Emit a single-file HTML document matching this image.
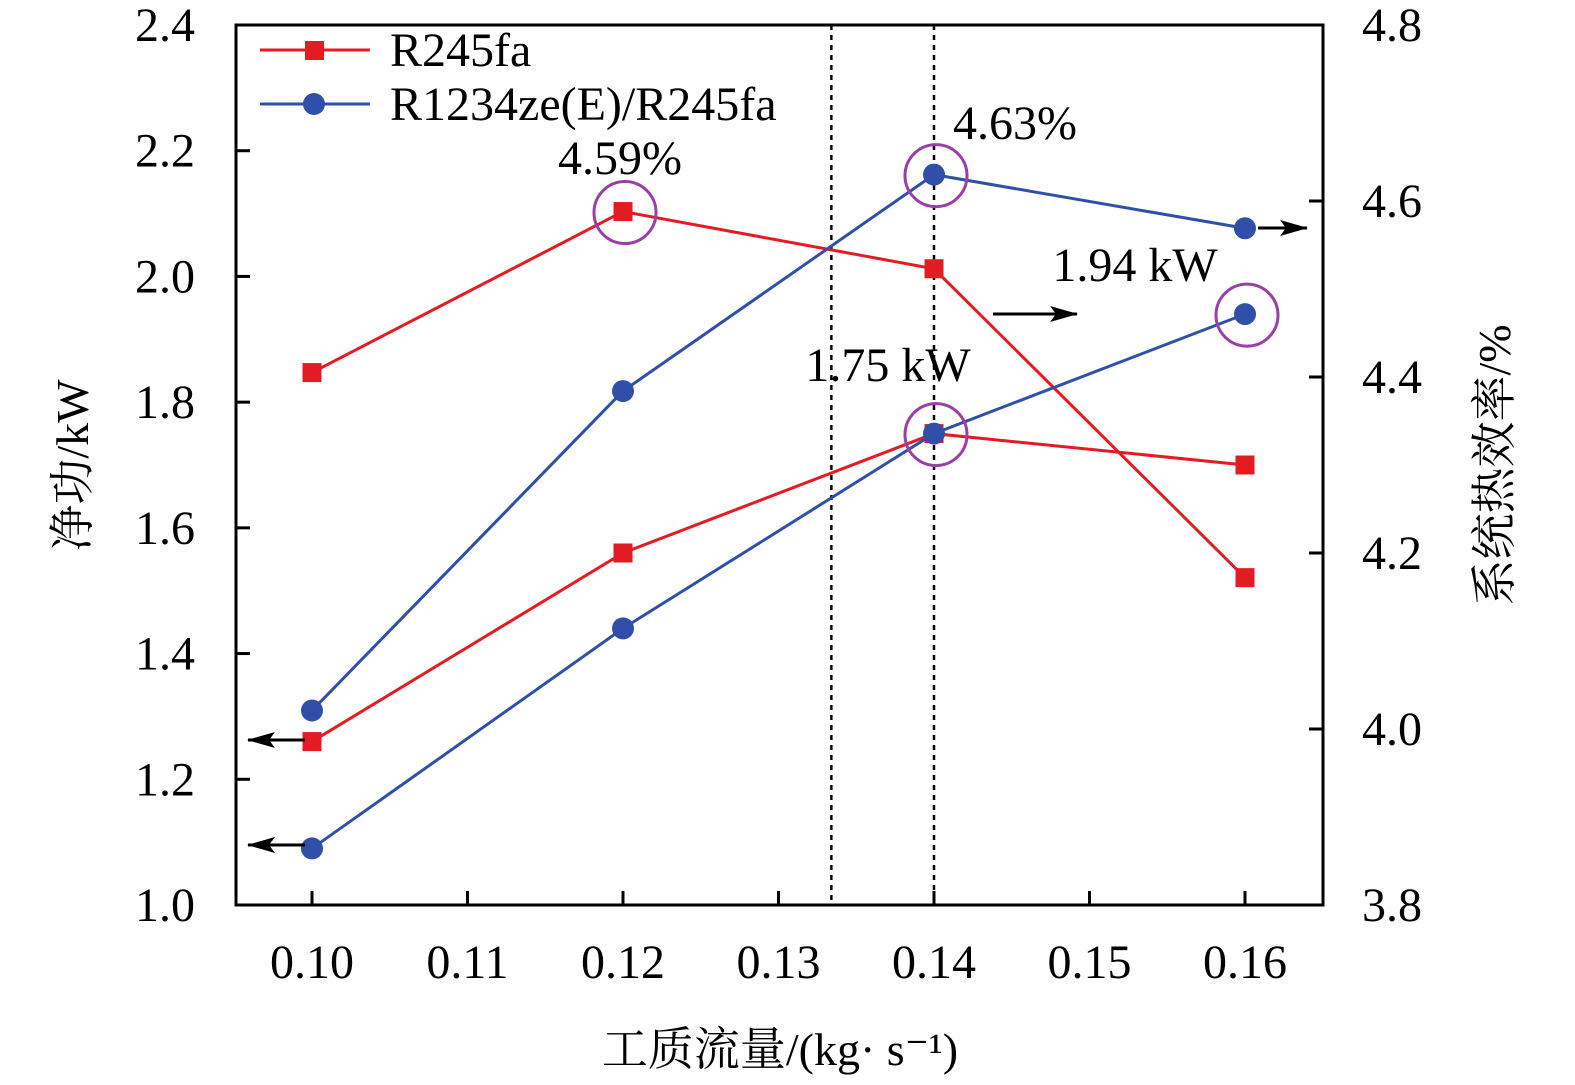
<!DOCTYPE html>
<html><head><meta charset="utf-8"><style>
html,body{margin:0;padding:0;background:#fff;}
svg{display:block;font-family:"Liberation Serif","Noto Serif CJK SC",serif;}
</style></head><body>
<svg id="c" width="1575" height="1085" viewBox="0 0 1575 1085" xmlns="http://www.w3.org/2000/svg">
<defs><marker id="ah" markerWidth="28" markerHeight="16" refX="27" refY="8" orient="auto" markerUnits="userSpaceOnUse"><path d="M0,0 L28,8 L0,16 L6,8 Z" fill="#000"/></marker></defs>
<g id="g"></g>
</svg>
<script>
const xVals=[0.10,0.12,0.14,0.16];
const r245Work=[1.26,1.56,1.75,1.70];
const r245Eff=[4.405,4.588,4.523,4.172];
const mixWork=[1.09,1.44,1.75,1.94];
const mixEff=[4.021,4.384,4.63,4.569];
const xTicks=[0.10,0.11,0.12,0.13,0.14,0.15,0.16];
const yLTicks=[1.0,1.2,1.4,1.6,1.8,2.0,2.2,2.4];
const yRTicks=[3.8,4.0,4.2,4.4,4.6,4.8];
const vLines=[0.1334,0.14];

const L=236,R=1323,T=25,B=905;
const sx=v=>312+(v-0.10)/0.06*(1245-312);
const syL=v=>B-(v-1.0)/1.4*(B-T);
const syR=v=>B-(v-3.8)/1.0*(B-T);
const NS="http://www.w3.org/2000/svg";
const g=document.getElementById('g');
function el(t,a,name,txt){const e=document.createElementNS(NS,t);for(const k in a)e.setAttribute(k,a[k]);


if(txt!==undefined)e.textContent=txt;g.appendChild(e);return e;}

el('rect',{x:L,y:T,width:R-L,height:B-T,fill:'none',stroke:'#000','stroke-width':3},'plot-frame');
vLines.forEach(v=>el('line',{x1:sx(v),x2:sx(v),y1:T,y2:B,stroke:'#000','stroke-width':2.5,'stroke-dasharray':'5,5'},'reference-line'));
xTicks.forEach(v=>{el('line',{x1:sx(v),x2:sx(v),y1:B,y2:B-14,stroke:'#000','stroke-width':3},'x-tick');
el('text',{x:sx(v),y:978,'font-size':48,'text-anchor':'middle'},'x-tick-label',v.toFixed(2));});
yLTicks.forEach(v=>{el('line',{x1:L,x2:L+14,y1:syL(v),y2:syL(v),stroke:'#000','stroke-width':3},'y-left-tick');
el('text',{x:195,y:syL(v)+16,'font-size':48,'text-anchor':'end'},'y-left-tick-label',v.toFixed(1));});
yRTicks.forEach(v=>{el('line',{x1:R,x2:R-14,y1:syR(v),y2:syR(v),stroke:'#000','stroke-width':3},'y-right-tick');
el('text',{x:1362,y:syR(v)+16,'font-size':48,'text-anchor':'start'},'y-right-tick-label',v.toFixed(1));});

el('text',{x:780,y:1065,'font-size':46,'text-anchor':'middle'},'x-axis-title','工质流量/(kg· s⁻¹)');
el('text',{x:0,y:0,'font-size':46,'text-anchor':'middle',transform:'translate(88,465) rotate(-90)'},'y-left-axis-title','净功/kW');
el('text',{x:0,y:0,'font-size':46,'text-anchor':'middle',transform:'translate(1510,465) rotate(-90)'},'y-right-axis-title','系统热效率/%');

const RED='#e31b23',BLUE='#2f4fa8';
function series(vals,sy,col,shape,name){
 el('polyline',{points:vals.map((v,i)=>sx(xVals[i])+','+sy(v)).join(' '),fill:'none',stroke:col,'stroke-width':3},name+'-line');
 vals.forEach((v,i)=>{const x=sx(xVals[i]),y=sy(v);
  if(shape==='sq')el('rect',{x:x-9.5,y:y-9.5,width:19,height:19,fill:col},name+'-marker');
  else el('circle',{cx:x,cy:y,r:11,fill:col},name+'-marker');});
}
series(r245Work,syL,RED,'sq','r245fa-work');
series(r245Eff,syR,RED,'sq','r245fa-efficiency');
series(mixWork,syL,BLUE,'ci','mixture-work');
series(mixEff,syR,BLUE,'ci','mixture-efficiency');

[[sx(0.12),syR(r245Eff[1])],[sx(0.14),syR(mixEff[2])],[sx(0.14),syL(1.75)],[sx(0.16),syL(mixWork[3])]].forEach(p=>
 el('circle',{cx:p[0]+2,cy:p[1]+1,r:31,fill:'none',stroke:'#9b3fa8','stroke-width':3},'highlight-circle'));

el('line',{x1:305,y1:740,x2:248,y2:740,stroke:'#000','stroke-width':3,'marker-end':'url(#ah)'},'left-axis-arrow');
el('line',{x1:305,y1:845,x2:248,y2:845,stroke:'#000','stroke-width':3,'marker-end':'url(#ah)'},'left-axis-arrow');
el('line',{x1:993,y1:314,x2:1077,y2:314,stroke:'#000','stroke-width':3,'marker-end':'url(#ah)'},'right-axis-arrow');
el('line',{x1:1258,y1:228,x2:1307,y2:228,stroke:'#000','stroke-width':3,'marker-end':'url(#ah)'},'right-axis-arrow');

el('text',{x:620,y:174,'font-size':48,'text-anchor':'middle'},'annotation-4-59','4.59%');
el('text',{x:1015,y:139,'font-size':48,'text-anchor':'middle'},'annotation-4-63','4.63%');
el('text',{x:1135,y:281,'font-size':48,'text-anchor':'middle'},'annotation-1-94kw','1.94 kW');
el('text',{x:888,y:381,'font-size':48,'text-anchor':'middle'},'annotation-1-75kw','1.75 kW');

el('line',{x1:260,x2:370,y1:50,y2:50,stroke:RED,'stroke-width':3},'legend-r245fa-line');
el('rect',{x:305,y:41,width:19,height:19,fill:RED},'legend-r245fa-marker');
el('text',{x:390,y:66,'font-size':48},'legend-r245fa-label','R245fa');
el('line',{x1:260,x2:370,y1:104,y2:104,stroke:BLUE,'stroke-width':3},'legend-mixture-line');
el('circle',{cx:314,cy:104,r:11,fill:BLUE},'legend-mixture-marker');
el('text',{x:390,y:120,'font-size':48},'legend-mixture-label','R1234ze(E)/R245fa');
</script>
</body></html>
